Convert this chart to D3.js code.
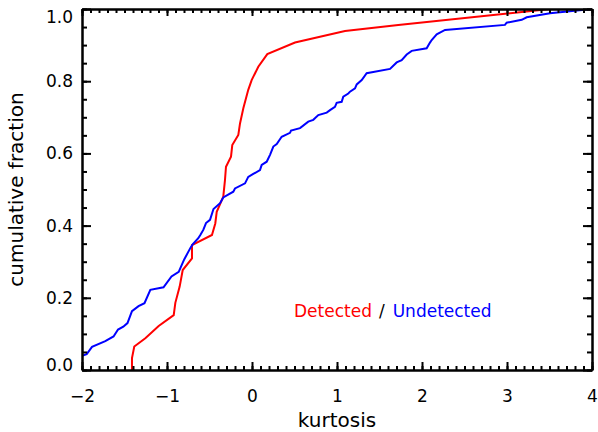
<!DOCTYPE html>
<html>
<head>
<meta charset="utf-8">
<script src="https://cdn.jsdelivr.net/npm/d3@7"></script>
<style>
  body { margin: 0; background: #fff; }
  svg { display: block; }
  text { font-family: "DejaVu Sans", sans-serif; }
</style>
</head>
<body>
<svg width="598" height="432"></svg>
<script>
// detected sample (red)
const detKurt = [-1.412, -1.412, -1.385, -1.255, -1.098, -0.921, -0.902, -0.851, -0.815, -0.706,
  -0.706, -0.471, -0.432, -0.415, -0.338, -0.318, -0.306, -0.247, -0.232, -0.161,
  -0.141, -0.102, -0.044, -0.004, 0.074, 0.180, 0.506, 1.094, 1.721, 3.506];
const detFrac = [0.000, 0.033, 0.065, 0.088, 0.122, 0.152, 0.186, 0.231, 0.277, 0.309,
  0.346, 0.374, 0.406, 0.438, 0.480, 0.526, 0.563, 0.591, 0.623, 0.651,
  0.683, 0.725, 0.776, 0.803, 0.840, 0.875, 0.907, 0.939, 0.956, 1.000];

// undetected sample (blue)
const undKurt = [-2.000, -1.945, -1.882, -1.726, -1.629, -1.576, -1.514, -1.465, -1.412, -1.335,
  -1.265, -1.196, -1.041, -0.947, -0.862, -0.812, -0.796, -0.718, -0.698, -0.632,
  -0.608, -0.573, -0.541, -0.494, -0.453, -0.376, -0.338, -0.220, -0.200, -0.082,
  -0.044, 0.015, 0.094, 0.114, 0.173, 0.212, 0.251, 0.291, 0.349, 0.447,
  0.459, 0.565, 0.662, 0.721, 0.780, 0.879, 0.918, 0.976, 0.996, 1.055,
  1.074, 1.133, 1.153, 1.212, 1.232, 1.291, 1.349, 1.624, 1.702, 1.761,
  1.820, 1.879, 2.055, 2.094, 2.114, 2.173, 2.271, 2.976, 2.996, 3.173,
  3.232, 3.506, 4.000];
const undFrac = [0.039, 0.044, 0.064, 0.080, 0.093, 0.112, 0.120, 0.130, 0.163, 0.177,
  0.185, 0.222, 0.229, 0.259, 0.272, 0.299, 0.307, 0.341, 0.348, 0.365,
  0.374, 0.388, 0.407, 0.416, 0.446, 0.462, 0.478, 0.494, 0.503, 0.517,
  0.535, 0.543, 0.554, 0.568, 0.577, 0.596, 0.619, 0.626, 0.646, 0.657,
  0.663, 0.670, 0.688, 0.693, 0.706, 0.713, 0.720, 0.729, 0.740, 0.743,
  0.757, 0.766, 0.771, 0.780, 0.791, 0.803, 0.822, 0.834, 0.852, 0.858,
  0.874, 0.884, 0.891, 0.907, 0.914, 0.930, 0.942, 0.956, 0.962, 0.970,
  0.977, 0.988, 1.000];

const xTicks = [-2, -1, 0, 1, 2, 3, 4];
const yTicks = [0, 0.2, 0.4, 0.6, 0.8, 1.0];

const svg = d3.select("svg");
const plotL = 82, plotR = 592, plotT = 9, plotB = 370;

const x = d3.scaleLinear().domain([-2, 4]).range([plotL, plotR]);
const y = d3.scaleLinear().domain([0, 1]).range([plotB, plotT]);

svg.append("defs").append("clipPath")
  .attr("id", "plot")
  .append("rect")
  .attr("x", plotL).attr("y", plotT)
  .attr("width", plotR - plotL).attr("height", plotB - plotT);

// Curves
const line = d3.line()
  .x(d => x(d[0]))
  .y(d => y(d[1]));

svg.append("path")
  .datum(detKurt.map((k, i) => [k, detFrac[i]]))
  .attr("clip-path", "url(#plot)")
  .attr("fill", "none")
  .attr("stroke", "#ff0000")
  .attr("stroke-width", 2)
  .attr("d", line);

svg.append("path")
  .datum(undKurt.map((k, i) => [k, undFrac[i]]))
  .attr("clip-path", "url(#plot)")
  .attr("fill", "none")
  .attr("stroke", "#0000ff")
  .attr("stroke-width", 2)
  .attr("d", line);

// Axes (ticks point inward)
const xMinor = d3.range(0, 61).map(i => -2 + i / 10);
const yMinor = d3.range(0, 21).map(i => i / 20);

function axisGroup(axis, tx, ty) {
  const g = svg.append("g")
    .attr("transform", `translate(${tx},${ty})`)
    .call(axis);
  g.selectAll("line, path").attr("stroke", "#000").attr("stroke-width", 2);
  g.selectAll("text")
    .attr("fill", "#000")
    .style("font-family", "DejaVu Sans")
    .style("font-size", "17px");
  return g;
}

axisGroup(d3.axisBottom(x).tickValues(xMinor).tickSize(-4).tickSizeOuter(0).tickFormat(""), 0, plotB);
axisGroup(d3.axisBottom(x).tickValues(xTicks).tickSize(-8).tickSizeOuter(0)
  .tickPadding(20).tickFormat(d3.format("d")), 0, plotB);

axisGroup(d3.axisTop(x).tickValues(xMinor).tickSize(-4).tickSizeOuter(0).tickFormat(""), 0, plotT);
axisGroup(d3.axisTop(x).tickValues(xTicks).tickSize(-7).tickSizeOuter(0).tickFormat(""), 0, plotT);

axisGroup(d3.axisLeft(y).tickValues(yMinor).tickSize(-5).tickSizeOuter(0).tickFormat(""), plotL, 0);
const yAx = axisGroup(d3.axisLeft(y).tickValues(yTicks).tickSize(-9).tickSizeOuter(0)
  .tickPadding(9).tickFormat(d3.format(".1f")), plotL, 0);

axisGroup(d3.axisRight(y).tickValues(yMinor).tickSize(-5).tickSizeOuter(0).tickFormat(""), plotR, 0);
axisGroup(d3.axisRight(y).tickValues(yTicks).tickSize(-9).tickSizeOuter(0).tickFormat(""), plotR, 0);

// end labels pulled inside the frame
yAx.selectAll("text")
  .attr("dy", d => d === 1 ? "0.82em" : d === 0 ? "0" : "0.32em");

// Titles
svg.append("text")
  .attr("x", (plotL + plotR) / 2)
  .attr("y", 427)
  .attr("text-anchor", "middle")
  .style("font-size", "20px")
  .text("kurtosis");

svg.append("text")
  .attr("transform", `translate(23,${(plotT + plotB) / 2}) rotate(-90)`)
  .attr("text-anchor", "middle")
  .style("font-size", "20px")
  .text("cumulative fraction");

// Legend
const legend = svg.append("text")
  .attr("x", 294)
  .attr("y", 317)
  .style("font-size", "17px");
legend.append("tspan").attr("fill", "#ff0000").text("Detected");
legend.append("tspan").attr("fill", "#000").attr("dx", 7).text("/");
legend.append("tspan").attr("fill", "#0000ff").attr("dx", 8).text("Undetected");
</script>
</body>
</html>
